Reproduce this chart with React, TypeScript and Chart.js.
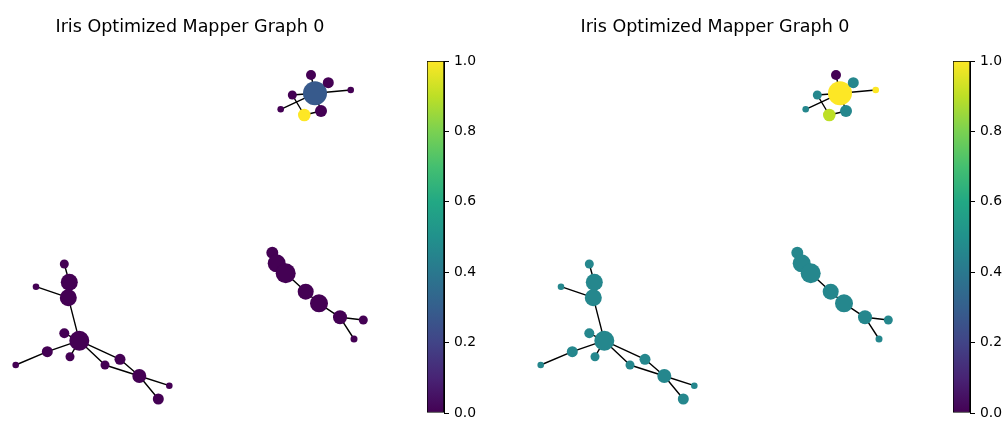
import React, { useEffect, useRef } from "react";
import { Chart, registerables } from "chart.js";

Chart.register(...registerables);

// ---- Data ----
const TITLE = "Iris Optimized Mapper Graph 0";

// node positions (graph layout coordinates)
const nodeX = [
  64.3, 69.3, 68.3, 36, 64.3, 79.3, 47.3, 15.7, 70, 120, 105, 139.3, 169.3, 158.3,
  315, 311, 328.3, 350.7, 292.3, 280.7, 321, 304.3,
  272.3, 276.7, 285.7, 305.7, 319, 340, 363.3, 354,
];
const nodeY = [
  264, 282.3, 297.7, 286.7, 333.3, 340.7, 351.7, 365, 356.7, 359.3, 365, 376, 385.7, 399,
  93.3, 75, 82.7, 90, 95, 109.3, 111, 115,
  252.7, 263.3, 273.3, 291.7, 303.3, 317.3, 320, 339,
];
// node sizes (cluster sizes shown as radius)
const nodeSize = [
  4.5, 8.5, 8.5, 3.3, 5, 10, 5.5, 3.3, 4.5, 5.5, 4.5, 7, 3.3, 5.5,
  12, 5, 5.5, 3.3, 4.5, 3.3, 6, 6.3,
  6, 9, 10, 8, 9, 7, 4.5, 3.5,
];
const edgeFrom = [0, 1, 3, 2, 4, 5, 6, 5, 5, 5, 9, 10, 11, 11, 14, 14, 14, 14, 14, 18, 21, 20, 22, 23, 24, 25, 26, 27, 27];
const edgeTo = [1, 2, 2, 5, 5, 6, 7, 8, 9, 10, 11, 11, 12, 13, 15, 16, 17, 19, 18, 21, 20, 14, 23, 24, 25, 26, 27, 28, 29];

const colorLeft = [
  0, 0, 0, 0, 0, 0, 0, 0, 0, 0, 0, 0, 0, 0,
  0.28, 0, 0, 0, 0, 0, 0, 1.0,
  0, 0, 0, 0, 0, 0, 0, 0,
];
const colorRight = [
  0.46, 0.46, 0.46, 0.46, 0.46, 0.46, 0.46, 0.46, 0.46, 0.46, 0.46, 0.46, 0.46, 0.46,
  1.0, 0.0, 0.46, 1.0, 0.46, 0.46, 0.46, 0.9,
  0.46, 0.46, 0.46, 0.46, 0.46, 0.46, 0.46, 0.46,
];
const colorbarTicks = [0, 0.2, 0.4, 0.6, 0.8, 1.0];

// ---- viridis ----
const VIRIDIS = [
  "#440154", "#482475", "#414487", "#355f8d", "#2a788e", "#21918c",
  "#22a884", "#44bf70", "#7ad151", "#bddf26", "#fde725",
];
function hexToRgb(h: string) {
  return [parseInt(h.slice(1, 3), 16), parseInt(h.slice(3, 5), 16), parseInt(h.slice(5, 7), 16)];
}
function viridis(v: number) {
  const t = Math.max(0, Math.min(1, v)) * (VIRIDIS.length - 1);
  const i = Math.min(Math.floor(t), VIRIDIS.length - 2);
  const f = t - i;
  const a = hexToRgb(VIRIDIS[i]);
  const b = hexToRgb(VIRIDIS[i + 1]);
  const c = a.map((x, k) => Math.round(x + (b[k] - x) * f));
  return `rgb(${c[0]},${c[1]},${c[2]})`;
}

const FONT = "'DejaVu Sans', sans-serif";

function GraphPanel({ left, colors }: { left: number; colors: number[] }) {
  const ref = useRef<HTMLCanvasElement>(null);
  useEffect(() => {
    const nodes = nodeX.map((x, i) => ({ x, y: nodeY[i] }));
    const edgeData: { x: number | null; y: number | null }[] = [];
    edgeFrom.forEach((a, i) => {
      const b = edgeTo[i];
      edgeData.push({ x: nodeX[a], y: nodeY[a] });
      edgeData.push({ x: nodeX[b], y: nodeY[b] });
      edgeData.push({ x: null, y: null });
    });
    const chart = new Chart(ref.current!, {
      type: "scatter",
      data: {
        datasets: [
          {
            type: "scatter",
            data: nodes,
            pointRadius: nodeSize,
            pointBackgroundColor: colors.map(viridis),
            pointBorderWidth: 0,
            order: 0,
          } as any,
          {
            type: "line",
            data: edgeData,
            showLine: true,
            pointRadius: 0,
            borderColor: "#000",
            borderWidth: 1.4,
            spanGaps: false,
            fill: false,
            order: 1,
          } as any,
        ],
      },
      options: {
        responsive: false,
        animation: false,
        events: [],
        layout: { padding: 0, autoPadding: false },
        plugins: {
          legend: { display: false },
          tooltip: { enabled: false },
          title: {
            display: true,
            text: TITLE,
            color: "#000",
            font: { family: FONT, size: 17.5, weight: "normal" as any, lineHeight: 1.2 },
            padding: { top: 16.5, bottom: 22.5 },
          },
        },
        scales: {
          x: { type: "linear", display: false, min: 0, max: 380 },
          y: { type: "linear", display: false, min: 60, max: 433, reverse: true },
        },
      },
    });
    return () => chart.destroy();
  }, []);
  return (
    <canvas
      ref={ref}
      width={380}
      height={433}
      style={{ position: "absolute", left, top: 0, width: 380, height: 433 }}
    />
  );
}

function Colorbar({ left }: { left: number }) {
  const ref = useRef<HTMLCanvasElement>(null);
  useEffect(() => {
    const chart = new Chart(ref.current!, {
      type: "bar",
      data: {
        labels: [""],
        datasets: [
          {
            data: [1],
            barPercentage: 1,
            categoryPercentage: 1,
            borderWidth: 1,
            borderColor: "#000",
            borderSkipped: false,
            backgroundColor: (ctx: any) => {
              const area = ctx.chart.chartArea;
              if (!area) return VIRIDIS[5];
              const g = ctx.chart.ctx.createLinearGradient(0, area.bottom, 0, area.top);
              VIRIDIS.forEach((c, i) => g.addColorStop(i / (VIRIDIS.length - 1), c));
              return g;
            },
          } as any,
        ],
      },
      options: {
        responsive: false,
        animation: false,
        events: [],
        layout: { padding: { top: 61, bottom: 20, left: 0, right: 0 } },
        plugins: { legend: { display: false }, tooltip: { enabled: false } },
        scales: {
          x: { display: false },
          y: {
            position: "right",
            min: 0,
            max: 1,
            afterBuildTicks: (scale: any) => {
              scale.ticks = colorbarTicks.map((v) => ({ value: v }));
            },
            afterFit: (scale: any) => {
              scale.width = 40;
            },
            ticks: {
              color: "#000",
              padding: 5,
              font: { family: FONT, size: 13.9 },
              callback: (v: any) => Number(v).toFixed(1),
            },
            grid: {
              drawOnChartArea: false,
              drawTicks: true,
              tickLength: 5,
              color: "#000",
              lineWidth: 1,
            },
            border: { display: true, color: "#000", width: 1 },
          },
        },
      },
    });
    return () => chart.destroy();
  }, []);
  return (
    <canvas
      ref={ref}
      width={57}
      height={433}
      style={{ position: "absolute", left, top: 0, width: 57, height: 433 }}
    />
  );
}

export default function App() {
  return (
    <div
      style={{
        position: "absolute",
        left: 0,
        top: 0,
        width: 1005,
        height: 433,
        overflow: "hidden",
        background: "#fff",
      }}
    >
      <GraphPanel left={0} colors={colorLeft} />
      <Colorbar left={427} />
      <GraphPanel left={525} colors={colorRight} />
      <Colorbar left={953} />
    </div>
  );
}
